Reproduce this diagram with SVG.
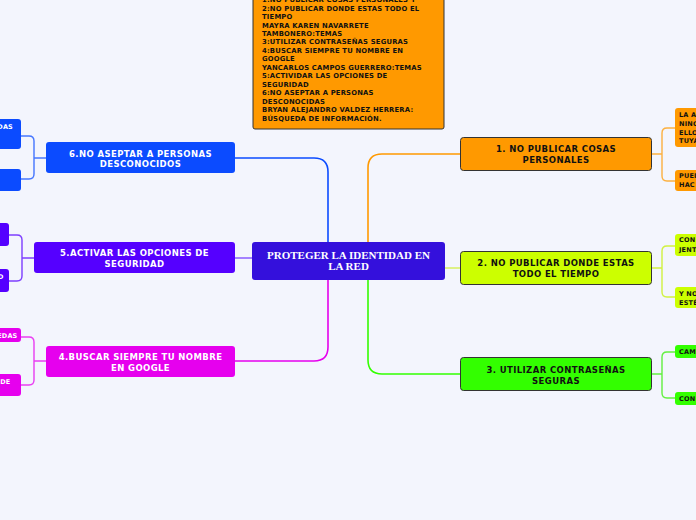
<svg xmlns="http://www.w3.org/2000/svg" width="696" height="520" viewBox="0 0 696 520">
<style>
.bg{fill:#f3f5fd}
.t{font-family:"DejaVu Sans",Verdana,sans-serif;font-weight:bold}
.main{font-size:8.5px;letter-spacing:0.4px;text-anchor:middle}
.sub{font-size:6.5px;letter-spacing:0.2px}
.note{font-size:6.8px;letter-spacing:0.2px;fill:#111}
.w{fill:#fff}
.k{fill:#111}
.c{fill:none;stroke-width:1.6;stroke-linecap:round}
.b{fill:none;stroke-width:1.4;opacity:0.75}
.bd{stroke:#333;stroke-width:1}
</style>
<rect class="bg" x="0" y="0" width="696" height="520"/>

<g id="connectors">
  <path class="c" stroke="#ff9900" d="M368,242 V168 Q368,154 382,154 H460"/>
  <path class="c" stroke="#0b4bff" d="M328,242 V172 Q328,158 314,158 H235"/>
  <path class="c" stroke="#8a5cff" d="M252,258 H235"/>
  <path class="c" stroke="#d8f060" d="M445,268 H460"/>
  <path class="c" stroke="#e600ee" d="M328,280 V347 Q328,361 314,361 H235"/>
  <path class="c" stroke="#33ff00" d="M368,280 V360 Q368,374 382,374 H460"/>
  <path class="b" stroke="#ff9900" d="M652,154 H662 M675,128 H667 Q662,128 662,133 V176 Q662,181 667,181 H675"/>
  <path class="b" stroke="#c6f000" d="M652,268 H662 M675,246 H667 Q662,246 662,251 V292 Q662,297 667,297 H675"/>
  <path class="b" stroke="#33ee00" d="M652,374 H662 M675,352 H667 Q662,352 662,357 V393 Q662,398 667,398 H675"/>
  <path class="b" stroke="#0b4bff" d="M46,158 H34 M21,136 H29 Q34,136 34,141 V174 Q34,179 29,179 H21"/>
  <path class="b" stroke="#5500ff" d="M34,258 H22 M9,235 H17 Q22,235 22,240 V276 Q22,281 17,281 H9"/>
  <path class="b" stroke="#e600ee" d="M46,361 H34 M21,337 H29 Q34,337 34,342 V380 Q34,385 29,385 H21"/>
</g>

<g id="note">
  <rect x="253" y="-20" width="191" height="149" rx="2" fill="#ff9900" class="bd"/>
  <text class="t note" x="262" y="2.1">1:NO PUBLICAR COSAS PERSONALES Y</text>
  <text class="t note" x="262" y="10.6">2:NO PUBLICAR DONDE ESTAS TODO EL</text>
  <text class="t note" x="262" y="19">TIEMPO</text>
  <text class="t note" x="262" y="27.5">MAYRA KAREN NAVARRETE</text>
  <text class="t note" x="262" y="36">TAMBONERO:TEMAS</text>
  <text class="t note" x="262" y="44.4">3:UTILIZAR CONTRASEÑAS SEGURAS</text>
  <text class="t note" x="262" y="52.9">4:BUSCAR SIEMPRE TU NOMBRE EN</text>
  <text class="t note" x="262" y="61.4">GOOGLE</text>
  <text class="t note" x="262" y="69.8">YANCARLOS CAMPOS GUERRERO:TEMAS</text>
  <text class="t note" x="262" y="78.3">5:ACTIVIDAR LAS OPCIONES DE</text>
  <text class="t note" x="262" y="86.7">SEGURIDAD</text>
  <text class="t note" x="262" y="95.2">6:NO ASEPTAR A PERSONAS</text>
  <text class="t note" x="262" y="103.7">DESCONOCIDAS</text>
  <text class="t note" x="262" y="112.1">BRYAN ALEJANDRO VALDEZ HERRERA:</text>
  <text class="t note" x="262" y="120.6">BÚSQUEDA DE INFORMACIÓN.</text>
</g>

<g id="center">
  <rect x="252" y="242" width="193" height="38" rx="3" fill="#3410dc"/>
  <text x="348.5" y="259" font-family="'Liberation Serif','Times New Roman',serif" font-weight="bold" font-size="11" fill="#fff" text-anchor="middle">PROTEGER LA IDENTIDAD EN</text>
  <text x="348.5" y="270" font-family="'Liberation Serif','Times New Roman',serif" font-weight="bold" font-size="11" fill="#fff" text-anchor="middle">LA RED</text>
</g>

<g id="n1">
  <rect x="460.5" y="137.5" width="191" height="33" rx="3" fill="#ff9900" class="bd"/>
  <text class="t main k" x="556" y="152">1. NO PUBLICAR COSAS</text>
  <text class="t main k" x="556" y="163">PERSONALES</text>
</g>
<g id="n1a">
  <rect x="675" y="108" width="40" height="39" rx="3" fill="#ff9900"/>
  <text class="t sub k" x="679" y="117.3">LA A</text>
  <text class="t sub k" x="679" y="125.6">NINC</text>
  <text class="t sub k" x="679" y="134.6">ELLO</text>
  <text class="t sub k" x="679" y="143">TUYA</text>
</g>
<g id="n1b">
  <rect x="675" y="170" width="40" height="21" rx="3" fill="#ff9900"/>
  <text class="t sub k" x="679" y="178.3">PUEI</text>
  <text class="t sub k" x="679" y="187.3">HAC</text>
</g>

<g id="n2">
  <rect x="460.5" y="251.5" width="191" height="33" rx="3" fill="#ccff00" class="bd"/>
  <text class="t main k" x="556" y="266">2. NO PUBLICAR DONDE ESTAS</text>
  <text class="t main k" x="556" y="277">TODO EL TIEMPO</text>
</g>
<g id="n2a">
  <rect x="675" y="234" width="40" height="22" rx="3" fill="#ccff00"/>
  <text class="t sub k" x="679" y="242.3">CON</text>
  <text class="t sub k" x="679" y="251.6">JENT</text>
</g>
<g id="n2b">
  <rect x="675" y="287" width="40" height="21" rx="3" fill="#ccff00"/>
  <text class="t sub k" x="679" y="295.6">Y NO</text>
  <text class="t sub k" x="679" y="304.6">ESTÉ</text>
</g>

<g id="n3">
  <rect x="460.5" y="357.5" width="191" height="33" rx="3" fill="#33ff00" class="bd"/>
  <text class="t main k" x="556" y="373">3. UTILIZAR CONTRASEÑAS</text>
  <text class="t main k" x="556" y="384">SEGURAS</text>
</g>
<g id="n3a">
  <rect x="675" y="345" width="40" height="13" rx="3" fill="#33ff00"/>
  <text class="t sub k" x="679" y="354">CAM</text>
</g>
<g id="n3b">
  <rect x="675" y="392" width="40" height="13" rx="3" fill="#33ff00"/>
  <text class="t sub k" x="679" y="400.6">CON</text>
</g>

<g id="n6">
  <rect x="46" y="142" width="189" height="31" rx="3" fill="#0b4bff"/>
  <text class="t main w" x="140.5" y="156.5">6.NO ASEPTAR A PERSONAS</text>
  <text class="t main w" x="140.5" y="167.3">DESCONOCIDOS</text>
</g>
<g id="n6a">
  <rect x="-30" y="119" width="51" height="30" rx="3" fill="#0b4bff"/>
  <text class="t sub w" x="13" y="129.3" text-anchor="end">DAS</text>
</g>
<g id="n6b">
  <rect x="-30" y="169" width="51" height="22" rx="3" fill="#0b4bff"/>
</g>

<g id="n5">
  <rect x="34" y="242" width="201" height="31" rx="3" fill="#5500ff"/>
  <text class="t main w" x="134.5" y="256">5.ACTIVAR LAS OPCIONES DE</text>
  <text class="t main w" x="134.5" y="267">SEGURIDAD</text>
</g>
<g id="n5a">
  <rect x="-30" y="223" width="39" height="23" rx="3" fill="#5500ff"/>
</g>
<g id="n5b">
  <rect x="-30" y="269" width="39" height="23" rx="3" fill="#5500ff"/>
  <text class="t sub w" x="3.5" y="279.3" text-anchor="end">D</text>
</g>

<g id="n4">
  <rect x="46" y="346" width="189" height="31" rx="3" fill="#e600ee"/>
  <text class="t main w" x="140.5" y="360">4.BUSCAR SIEMPRE TU NOMBRE</text>
  <text class="t main w" x="140.5" y="371">EN GOOGLE</text>
</g>
<g id="n4a">
  <rect x="-30" y="328" width="51" height="14" rx="3" fill="#e600ee"/>
  <text class="t sub w" x="17.5" y="337.5" text-anchor="end">EDAS</text>
</g>
<g id="n4b">
  <rect x="-30" y="374" width="51" height="22" rx="3" fill="#e600ee"/>
  <text class="t sub w" x="10.5" y="384.3" text-anchor="end">DE</text>
</g>
</svg>
